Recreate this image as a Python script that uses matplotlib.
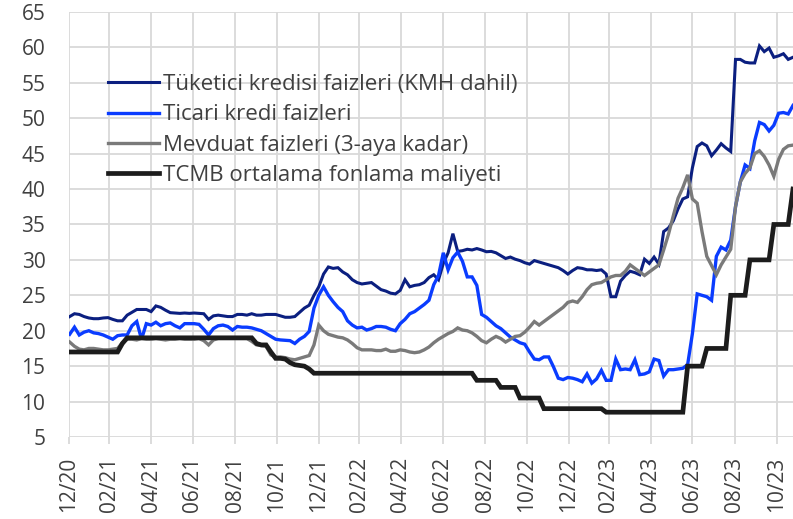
import numpy as np
import pandas as pd
import matplotlib
matplotlib.use("Agg")
import matplotlib.pyplot as plt

plt.rcParams['font.family'] = ['Open Sans', 'DejaVu Sans']

# weekly observations (Fridays) from 01/2021 to 11/2023
dates = pd.date_range('2021-01-01', periods=152, freq='7D')

# Tüketici kredisi faizleri (KMH dahil)
tuketici = [
    22.0, 22.4, 22.3, 22.0, 21.8, 21.7, 21.7, 21.8, 21.85, 21.6,
    21.4, 21.4, 22.2, 22.6, 23.0, 23.0, 23.0, 22.7, 23.5, 23.3,
    22.9, 22.55, 22.5, 22.45, 22.5, 22.45, 22.5, 22.45, 22.4, 21.6,
    22.1, 22.2, 22.1, 22.0, 22.0, 22.3, 22.3, 22.2, 22.4, 22.2,
    22.2, 22.3, 22.3, 22.3, 22.1, 21.9, 21.9, 22.0, 22.6, 23.2,
    23.6, 25.0, 26.2, 28.0, 29.0, 28.8, 28.9, 28.3, 27.9, 27.2,
    26.8, 26.6, 26.7, 26.8, 26.3, 25.8, 25.6, 25.3, 25.2, 25.7,
    27.2, 26.2, 26.4, 26.5, 26.8, 27.5, 27.9, 27.2, 29.5, 31.0,
    33.7, 31.2, 31.3, 31.5, 31.4, 31.6, 31.4, 31.15, 31.2, 31.0,
    30.6, 30.2, 30.4, 30.1, 29.9, 29.6, 29.4, 29.9, 29.7, 29.5,
    29.3, 29.1, 28.9, 28.5, 28.0, 28.5, 28.9, 28.8, 28.6, 28.6,
    28.5, 28.6, 28.0, 24.8, 24.8, 27.0, 27.8, 28.4, 28.2, 27.9,
    30.1, 29.5, 30.4, 29.4, 34.0, 34.5, 35.5, 37.2, 38.6, 38.9,
    43.0, 46.0, 46.5, 46.1, 44.7, 45.5, 46.4, 45.8, 45.3, 58.3,
    58.3, 57.9, 57.8, 57.8, 60.2, 59.4, 59.9, 58.6, 58.8, 59.1,
    58.3, 58.6,
]

# Ticari kredi faizleri
ticari = [
    19.5, 20.5, 19.4, 19.8, 20.0, 19.7, 19.6, 19.4, 19.1, 18.8,
    19.3, 19.4, 19.4, 20.7, 21.3, 18.8, 21.0, 20.8, 21.2, 20.7,
    21.0, 21.1, 20.7, 20.4, 21.0, 21.0, 21.0, 20.9, 20.2, 19.4,
    20.3, 20.7, 20.8, 20.6, 20.1, 20.6, 20.5, 20.5, 20.4, 20.2,
    20.0, 19.6, 19.2, 18.8, 18.7, 18.65, 18.6, 18.2, 18.8, 19.2,
    19.9, 23.2, 25.0, 26.2, 25.0, 24.1, 23.3, 22.7, 21.4, 20.8,
    20.4, 20.5, 20.1, 20.3, 20.6, 20.6, 20.5, 20.2, 20.0, 21.0,
    21.6, 22.4, 22.7, 23.2, 23.7, 24.3, 26.5, 27.8, 31.0, 28.6,
    30.3, 31.1, 29.8, 27.6, 27.6, 26.4, 22.3, 21.9, 21.3, 20.7,
    20.3, 19.7, 19.1, 18.7, 18.3, 18.1, 17.0, 16.0, 15.9, 16.3,
    16.3, 14.9, 13.3, 13.1, 13.4, 13.3, 13.1, 12.8, 13.9, 12.6,
    13.2, 14.4, 13.0, 13.0, 16.0, 14.5, 14.6, 14.5, 15.9, 13.8,
    13.9, 14.2, 16.0, 15.8, 13.6, 14.5, 14.5, 14.6, 14.7, 15.2,
    19.6, 25.2, 25.0, 24.8, 24.3, 30.5, 31.8, 31.4, 32.8, 37.5,
    41.0, 43.4, 42.9, 46.8, 49.4, 49.1, 48.2, 49.0, 50.7, 50.8,
    50.6, 51.8,
]

# Mevduat faizleri (3-aya kadar)
mevduat = [
    18.4, 17.8, 17.4, 17.3, 17.5, 17.5, 17.4, 17.3, 17.3, 17.4,
    17.5, 18.3, 18.8, 18.8, 18.7, 18.9, 18.8, 18.8, 18.9, 18.8,
    18.7, 18.8, 18.8, 18.9, 18.8, 18.8, 18.8, 18.9, 18.6, 18.0,
    18.7, 18.9, 18.9, 18.9, 18.9, 18.9, 18.9, 18.9, 18.5, 18.0,
    17.9, 17.8, 16.6, 16.3, 16.3, 16.2, 16.0, 15.9, 16.1, 16.3,
    16.5, 18.0, 20.8, 20.0, 19.5, 19.3, 19.1, 19.0, 18.7, 18.2,
    17.6, 17.3, 17.3, 17.3, 17.2, 17.2, 17.4, 17.1, 17.1, 17.3,
    17.2, 17.0, 16.9, 17.0, 17.3, 17.7, 18.3, 18.8, 19.2, 19.6,
    19.9, 20.4, 20.1, 20.0, 19.7, 19.2, 18.6, 18.3, 18.8, 19.2,
    18.9, 18.4, 18.8, 19.2, 19.3, 19.8, 20.5, 21.3, 20.8, 21.3,
    21.8, 22.3, 22.8, 23.3, 24.0, 24.2, 24.0, 24.8, 25.8, 26.5,
    26.7, 26.8, 27.2, 27.6, 27.8, 27.8, 28.4, 29.3, 28.8, 28.3,
    27.8, 28.3, 28.8, 29.3, 31.4, 33.6, 36.2, 38.7, 40.2, 42.0,
    38.6, 38.0, 34.0, 30.5, 29.2, 27.9, 29.3, 30.4, 31.5, 37.5,
    41.0, 42.2, 43.0, 45.0, 45.4, 44.6, 43.4, 41.8, 44.2, 45.6,
    46.1, 46.2,
]

# TCMB ortalama fonlama maliyeti
tcmb = (
    [17.0] * 11 + [18.2] + [19.0] * 27
    + [18.2, 18.0, 18.0, 17.0, 16.1, 16.1, 16.0, 15.5, 15.2, 15.1, 15.0, 14.6]
    + [14.0] * 34 + [13.0] * 5 + [12.0] * 4 + [10.5] * 5 + [9.0] * 13
    + [8.5] * 17 + [15.0] * 4 + [17.5] * 5 + [25.0] * 4 + [30.0] * 5
    + [35.0] * 4 + [40.0]
)

series = [
    ('Tüketici kredisi faizleri (KMH dahil)', tuketici, '#0b1f80', 2.2),
    ('Ticari kredi faizleri', ticari, '#0a3cff', 2.4),
    ('Mevduat faizleri (3-aya kadar)', mevduat, '#7a7a7a', 2.4),
    ('TCMB ortalama fonlama maliyeti', tcmb, '#1c1c1c', 3.4),
]

tick_dates = pd.date_range('2020-12-31', '2023-10-31', freq='2ME')
tick_labels = [d.strftime('%m/%y') for d in tick_dates]

fig = plt.figure(figsize=(7.93, 5.19), dpi=100)
ax = fig.add_axes([0.087, 0.158, 0.913, 0.819])

for name, vals, col, lw in series:
    ax.plot(dates, vals, color=col, lw=lw, label=name, solid_joinstyle='miter')

ax.set_xlim(pd.Timestamp('2020-12-31'), pd.Timestamp('2023-11-24'))
ax.set_ylim(5, 65)
ax.set_yticks(np.arange(5, 66, 5))
ax.set_xticks(tick_dates)
ax.set_xticklabels(tick_labels, rotation=90)

ax.grid(True, color='#d9d9d9', lw=1.3)
ax.set_axisbelow(True)
for s in ax.spines.values():
    s.set_visible(False)

ax.tick_params(axis='y', length=0, pad=17, labelsize=15, labelcolor='#404040')
ax.tick_params(axis='x', length=5, width=1.3, color='#d9d9d9', pad=9,
               labelsize=15, labelcolor='#404040')

leg = ax.legend(loc='upper left', bbox_to_anchor=(0.041, 0.875), frameon=False,
                fontsize=16, labelcolor='#404040', handlelength=2.3,
                handletextpad=0.2, labelspacing=0.42, borderaxespad=0)

fig.savefig('out.png', dpi=100)
